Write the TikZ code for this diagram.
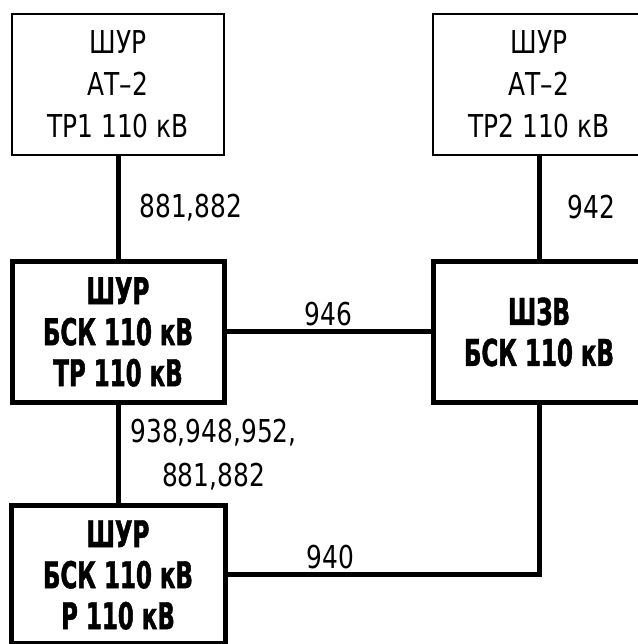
\documentclass[tikz,border=0pt]{standalone}
\usepackage{fontspec}
\setmainfont{DejaVu Sans}[FakeStretch=0.79, BoldFeatures={FakeStretch=0.62, FakeBold=1.2}]
\usepackage{tikz}
\usetikzlibrary{positioning}

\begin{document}
\begin{tikzpicture}[x=1pt, y=1pt,
  srcbox/.style={rectangle, draw, line width=1.5pt, minimum width=212pt, minimum height=141pt, inner sep=0pt, align=center, font=\fontsize{31.5}{42}\selectfont},
  shrbox/.style={srcbox, line width=5pt, font=\fontsize{37}{41}\selectfont\bfseries},
  link/.style={line width=5pt},
  numlbl/.style={inner sep=0pt, align=center, font=\fontsize{31.5}{44}\selectfont}
]
\useasboundingbox (0,0) rectangle (637,644);
\node[srcbox] (tp1) at (118,559.5) {ШУР\\АТ–2\\ТР1 110 кВ};
\node[srcbox] (tp2) at (539,559.5) {ШУР\\АТ–2\\ТР2 110 кВ};
\node[shrbox] (bsk) at (118,312) {ШУР\\БСК 110 кВ\\ТР 110 кВ};
\node[shrbox] (szv) at (539,312) {ШЗВ\\БСК 110 кВ};
\node[shrbox, minimum width=214pt, minimum height=138pt] (rea) at (118,69) {ШУР\\БСК 110 кВ\\Р 110 кВ};

\draw[link] (tp1) -- node[numlbl, right=19pt] {881,882} (bsk);
\draw[link] (tp2) -- node[numlbl, right=26pt] {942} (szv);
\draw[link] (bsk) -- node[numlbl, above=4pt] {946} (szv);
\draw[link] (bsk) -- node[numlbl, right=10pt] {938,948,952,\\881,882} (rea);
\draw[link] (rea) -| node[numlbl, pos=0.165, above=4pt] {940} (szv);
\end{tikzpicture}
\end{document}
